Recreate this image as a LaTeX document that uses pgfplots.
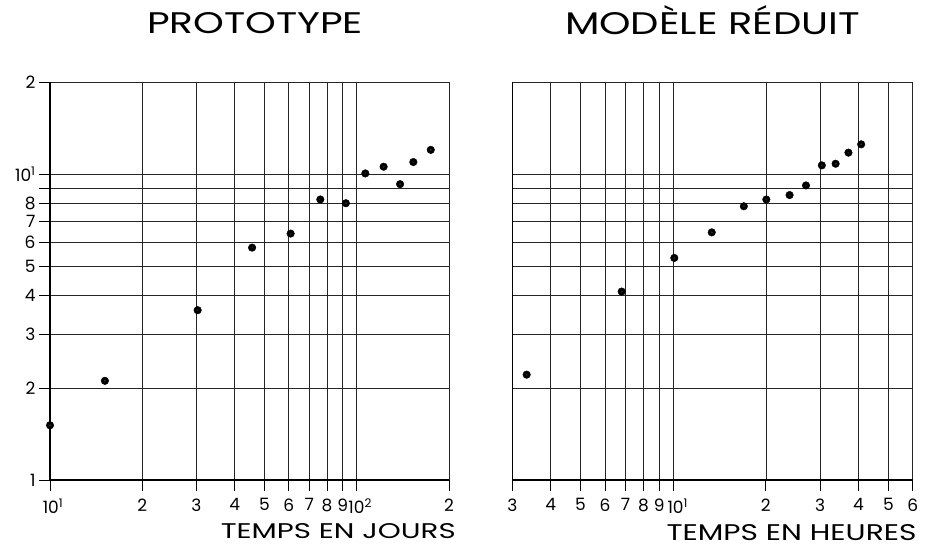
\documentclass[border=0pt]{standalone}
\usepackage{pgfplots}
\pgfplotsset{compat=1.18}
\usepackage{fontspec}
\setmainfont{Poppins}

% lettering: scale a word to a given width and cap height
\newcommand\fitbox[3]{\resizebox{#1}{#2}{\fontsize{30}{30}\selectfont #3}}

\pgfplotsset{
  ll frame/.style={
    scale only axis, height=398pt,
    ymin=1, ymax=20,
    ytick={1,2,3,4,5,6,7,8,9,10,20},
    axis x line*=bottom, axis y line*=left,
    axis line style={line width=1.4pt, -},
    grid=major,
    major grid style={line width=0.65pt, black!85},
    tick align=outside,
    major tick length=11pt,
    tick style={line width=0.8pt, black},
    ticklabel style={font=\fontsize{17}{17}\selectfont},
    xticklabel style={yshift=-4pt},
    clip=false,
    title style={at={(0.5,1)}, anchor=base, inner sep=0pt},
    xlabel style={at={(1,0)}, anchor=base east, inner sep=0pt},
  },
  pts/.style={only marks, mark=*, mark size=3.8pt,
              mark options={fill=black, draw=black}},
  holes/.style={only marks, mark=*, mark size=0.7pt,
                mark options={fill=white, draw=none}},
}

\pgfplotstableread{
x     y
10    1.51
15.1  2.11
30.3  3.59
45.6  5.75
60.9  6.39
76.1  8.26
92.2  8.03
106.7 10.05
122.4 10.57
138.5 9.27
153   10.95
174.4 12.0
}\proto

\pgfplotstableread{
x     y
3.34  2.21
6.80  4.13
10.08 5.32
13.34 6.45
16.96 7.85
20.07 8.26
23.88 8.54
27.0  9.18
30.4  10.68
33.7  10.81
37.1  11.75
40.8  12.51
}\modele

\begin{document}
\begin{tikzpicture}
\path[use as bounding box] (0,0) rectangle (931pt,547pt);

% prototype
\begin{loglogaxis}[ll frame,
    at={(50pt,67pt)}, anchor=south west, width=399pt,
    xmin=10, xmax=200,
    xtick={10,20,30,40,50,60,70,80,90,100,200},
    xticklabels={\hspace{6pt}10\textsuperscript{1},2,3,4,5,6,7,8,
                 9\hspace{8pt},\hspace{7pt}10\textsuperscript{2},2},
    yticklabels={1,2,3,4,5,6,7,8,,10\textsuperscript{1},2},
    title={\fitbox{216pt}{21pt}{PROTOTYPE}},
    title style={xshift=5.5pt, yshift=42pt},
    xlabel={\fitbox{235pt}{15pt}{TEMPS EN JOURS}},
    xlabel style={xshift=7pt, yshift=-58pt},
  ]
  \addplot[pts] table {\proto};
  \addplot[holes] table {\proto};
\end{loglogaxis}

% modele reduit
\begin{loglogaxis}[ll frame,
    at={(512.3pt,67pt)}, anchor=south west, width=400.4pt,
    xmin=3, xmax=60,
    xtick={3,4,5,6,7,8,9,10,20,30,40,50,60},
    xticklabels={3,4,5,6,7,8,9,\hspace{9pt}10\textsuperscript{1},2,3,4,5,6},
    yticklabels={},
    ytick style={draw=none},
    title={\fitbox{295pt}{22pt}{MOD\smash{È}LE R\smash{É}DUIT}},
    title style={yshift=41pt},
    xlabel={\fitbox{250pt}{16pt}{TEMPS EN HEURES}},
    xlabel style={xshift=4pt, yshift=-60pt},
  ]
  \addplot[pts] table {\modele};
  \addplot[holes] table {\modele};
\end{loglogaxis}
\end{tikzpicture}
\end{document}
